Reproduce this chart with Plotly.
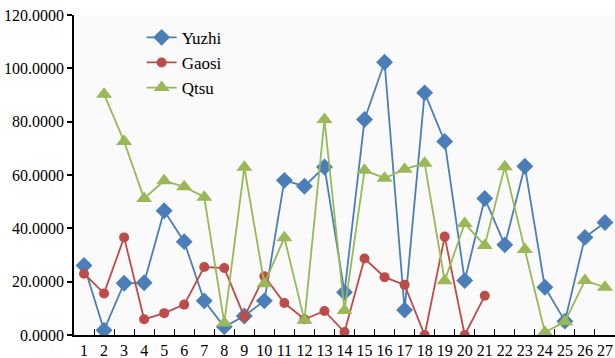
import plotly.graph_objects as go

categories = list(range(1, 28))
tick_labels = [str(c) for c in categories]

yuzhi = [26.1, 1.8, 19.4, 19.6, 46.6, 35.0, 12.8, 3.1, 7.1, 12.8, 58.0, 55.8, 63.0, 16.0,
         80.8, 102.3, 9.4, 90.8, 72.6, 20.4, 51.2, 33.8, 63.3, 17.9, 5.2, 36.6, 42.2]
gaosi = [23.0, 15.6, 36.6, 5.9, 8.2, 11.4, 25.5, 25.1, 6.8, 22.0, 12.0, 5.9, 9.0, 1.1,
         28.7, 21.7, 18.8, 0.0, 36.9, 0.0, 14.7, None, None, None, None, None, None]
qtsu = [None, 90.3, 72.6, 51.2, 57.8, 55.6, 51.7, 4.5, 62.9, 19.2, 36.5, 5.5, 80.8, 9.2,
        61.8, 58.8, 62.2, 64.4, 20.3, 41.8, 33.6, 63.1, 32.1, 1.0, 5.0, 20.4, 17.9]

y_ticks = [0, 20, 40, 60, 80, 100, 120]
y_tick_labels = [f"{v:.4f}" for v in y_ticks]

blue = "#4a7ebb"
red = "#be4b48"
green = "#98b954"
font_family = "Liberation Serif, Times New Roman, Times, serif"

fig = go.Figure()
fig.add_trace(go.Scatter(x=categories, y=yuzhi, name="Yuzhi", mode="lines+markers",
                         line=dict(color=blue, width=1.8),
                         marker=dict(symbol="diamond", size=13, color=blue)))
fig.add_trace(go.Scatter(x=categories, y=gaosi, name="Gaosi", mode="lines+markers",
                         line=dict(color=red, width=1.8),
                         marker=dict(symbol="circle", size=10, color=red)))
fig.add_trace(go.Scatter(x=categories, y=qtsu, name="Qtsu", mode="lines+markers",
                         line=dict(color=green, width=1.8),
                         marker=dict(symbol="triangle-up", size=14, color=green)))

fig.update_layout(
    width=615, height=358,
    margin=dict(l=74, r=0, t=15, b=23),
    paper_bgcolor="white",
    plot_bgcolor="#fafafa",
    font=dict(family=font_family, size=16, color="black"),
    showlegend=True,
    legend=dict(x=0.125, y=0.985, xanchor="left", yanchor="top",
                bgcolor="rgba(0,0,0,0)", font=dict(family=font_family, size=17),
                itemwidth=30, tracegroupgap=0),
)
fig.update_xaxes(
    range=[0.5, 27.5], tickvals=categories, ticktext=tick_labels,
    ticks="", showgrid=False, zeroline=False,
    showline=True, linecolor="black", linewidth=1.5,
    tickfont=dict(family=font_family, size=16),
    minor=dict(tickvals=[c + 0.5 for c in categories], ticks="inside",
               ticklen=6, tickcolor="black", tickwidth=1, showgrid=False),
)
fig.update_yaxes(
    range=[0, 120], tickvals=y_ticks, ticktext=y_tick_labels,
    ticks="outside", ticklen=5, tickcolor="black", tickwidth=1.5,
    showgrid=False, zeroline=False,
    showline=True, linecolor="black", linewidth=1.5,
    tickfont=dict(family=font_family, size=16),
)

fig.write_html("out.html", config={"displayModeBar": False},
               post_script="document.body.style.margin='0';document.body.style.overflow='hidden';")
